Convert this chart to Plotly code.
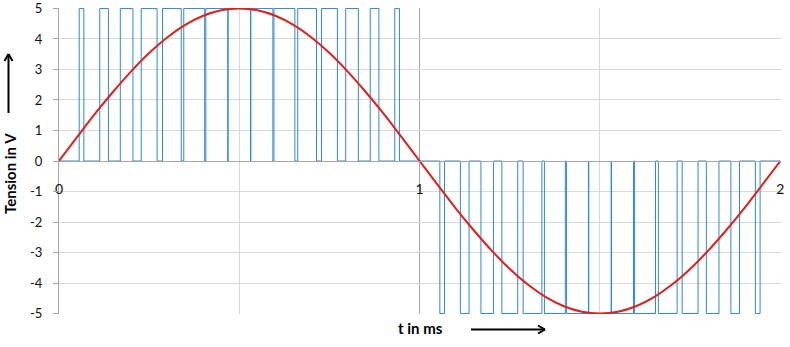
import plotly.graph_objects as go

# ---- data ----
sine_t = [0.00, 0.05, 0.10, 0.15, 0.20, 0.25, 0.30, 0.35, 0.40, 0.45,
          0.50, 0.55, 0.60, 0.65, 0.70, 0.75, 0.80, 0.85, 0.90, 0.95,
          1.00, 1.05, 1.10, 1.15, 1.20, 1.25, 1.30, 1.35, 1.40, 1.45,
          1.50, 1.55, 1.60, 1.65, 1.70, 1.75, 1.80, 1.85, 1.90, 1.95, 2.00]
sine_v = [0.00, 0.78, 1.55, 2.27, 2.94, 3.54, 4.05, 4.46, 4.76, 4.94,
          5.00, 4.94, 4.76, 4.46, 4.05, 3.54, 2.94, 2.27, 1.55, 0.78,
          0.00, -0.78, -1.55, -2.27, -2.94, -3.54, -4.05, -4.46, -4.76, -4.94,
          -5.00, -4.94, -4.76, -4.46, -4.05, -3.54, -2.94, -2.27, -1.55, -0.78, 0.00]

pos_on  = [0.056, 0.113, 0.170, 0.228, 0.287, 0.346, 0.407, 0.469,
           0.532, 0.596, 0.662, 0.728, 0.795, 0.863, 0.931]
pos_off = [0.069, 0.137, 0.205, 0.272, 0.339, 0.404, 0.468, 0.531,
           0.593, 0.654, 0.714, 0.772, 0.830, 0.887, 0.944]
neg_on  = [1.056, 1.113, 1.170, 1.228, 1.287, 1.346, 1.407, 1.469,
           1.532, 1.596, 1.662, 1.728, 1.795, 1.863, 1.931]
neg_off = [1.069, 1.137, 1.205, 1.272, 1.339, 1.404, 1.468, 1.531,
           1.593, 1.654, 1.714, 1.772, 1.830, 1.887, 1.944]
pos_level = 5
neg_level = -5

x_ticks = [0, 1, 2]
x_minor = [0.5, 1.5]
y_ticks = [5, 4, 3, 2, 1, 0, -1, -2, -3, -4, -5]

# ---- build pulse polyline ----
px_, py_ = [0], [0]
for on, off in zip(pos_on, pos_off):
    px_ += [on, on, off, off]
    py_ += [0, pos_level, pos_level, 0]
for on, off in zip(neg_on, neg_off):
    px_ += [on, on, off, off]
    py_ += [0, neg_level, neg_level, 0]
px_.append(2)
py_.append(0)

W, H = 790, 347
L, R, T, B = 59, 781, 8, 314

def pxx(x):
    return (x - L) / (R - L)

def pxy(y):
    return (B - y) / (B - T)

fig = go.Figure()
fig.add_trace(go.Scatter(x=px_, y=py_, mode="lines",
                         line=dict(color="#2f88d8", width=1), hoverinfo="skip"))
fig.add_trace(go.Scatter(x=sine_t, y=sine_v, mode="lines",
                         line=dict(color="#e0201b", width=2, shape="spline"), hoverinfo="skip"))

font = "Lato, 'Open Sans', sans-serif"

fig.update_layout(
    width=W, height=H,
    margin=dict(l=L, r=W - R, t=T, b=H - B),
    paper_bgcolor="white", plot_bgcolor="white",
    showlegend=False,
    font=dict(family=font, size=13, color="#111"),
    xaxis=dict(range=[0, 2.002], anchor="free", position=0.5, automargin=False,
               tickvals=x_ticks, ticktext=[str(v) for v in x_ticks],
               ticks="", ticklabelstandoff=15, ticklabeloverflow="allow",
               showline=True, linecolor="#a6a6a6", linewidth=1,
               showgrid=True, gridcolor="#a6a6a6", gridwidth=1,
               minor=dict(tickvals=x_minor, showgrid=True, gridcolor="#d9d9d9", gridwidth=1),
               zeroline=False, tickfont=dict(size=14)),
    yaxis=dict(range=[-5.015, 5.015], tickvals=y_ticks, ticktext=[str(v) for v in y_ticks],
               automargin=False,
               ticks="outside", ticklen=5, tickcolor="#a6a6a6", ticklabelstandoff=8,
               ticklabeloverflow="allow",
               showline=True, linecolor="#a6a6a6", linewidth=1,
               showgrid=True, gridcolor="#d9d9d9", gridwidth=1,
               zeroline=False, tickfont=dict(size=13)),
)

fig.add_annotation(text="<b>Tension in V</b>", textangle=-90, xref="paper", yref="paper",
                   x=pxx(10), y=pxy(174), showarrow=False, font=dict(size=15, color="#000"),
                   xanchor="center", yanchor="middle")
fig.add_annotation(text="<b>t in ms</b>", xref="paper", yref="paper",
                   x=pxx(420), y=pxy(327.5), showarrow=False, font=dict(size=15, color="#000"),
                   xanchor="center", yanchor="middle")

def seg(x0, y0, x1, y1):
    fig.add_shape(type="line", xref="paper", yref="paper",
                  x0=pxx(x0), y0=pxy(y0), x1=pxx(x1), y1=pxy(y1),
                  line=dict(color="#000", width=2), layer="above")

# vertical arrow
seg(8.5, 113, 8.5, 54)
seg(4.5, 61, 8.5, 54)
seg(12.5, 61, 8.5, 54)
# horizontal arrow
seg(471, 329.5, 545, 329.5)
seg(538, 325.5, 545, 329.5)
seg(538, 333.5, 545, 329.5)

fig.write_html("out.html")
